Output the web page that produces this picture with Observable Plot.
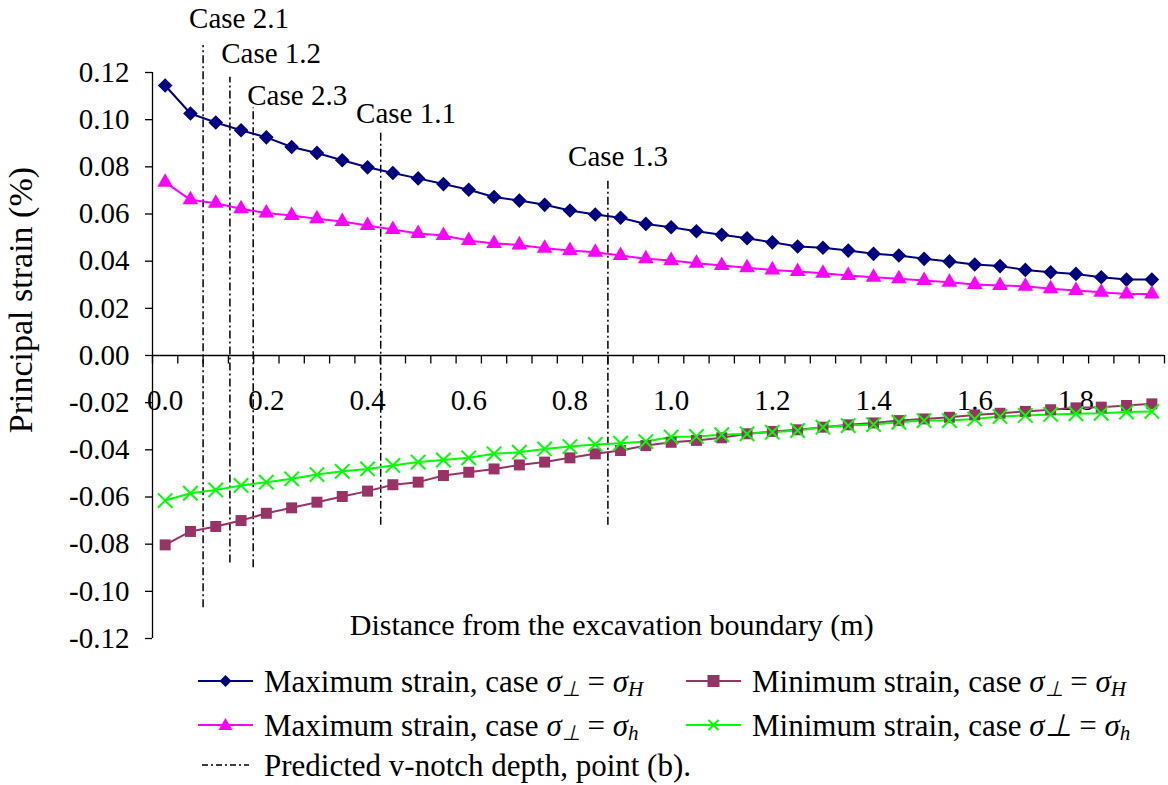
<!DOCTYPE html>
<html>
<head>
<meta charset="utf-8">
<script src="https://cdn.jsdelivr.net/npm/d3@7"></script>
<script src="https://cdn.jsdelivr.net/npm/@observablehq/plot@0.6"></script>
<style>
  html, body { margin: 0; padding: 0; background: #fff; }
  #wrap { position: relative; width: 1168px; height: 785px; font-family: "Liberation Serif", "Times New Roman", serif; }
  #legend { position: absolute; left: 0; top: 650px; width: 1168px; height: 135px; font-size: 31px; color: #000; }
  .item { position: absolute; display: flex; align-items: center; height: 32px; white-space: nowrap; line-height: 1; }
  .item svg { margin-right: 11px; }
  .item span { line-height: 1; }
  .s { font-style: italic; }
  sub { font-size: 0.68em; vertical-align: baseline; position: relative; top: 0.22em; line-height: 0; }
</style>
</head>
<body>
<div id="wrap">
  <div id="chart"></div>
  <div id="legend"></div>
</div>
<script>
// ---- data ----
const distance = [0.00,0.05,0.10,0.15,0.20,0.25,0.30,0.35,0.40,0.45,0.50,0.55,0.60,0.65,0.70,0.75,0.80,0.85,0.90,0.95,
                  1.00,1.05,1.10,1.15,1.20,1.25,1.30,1.35,1.40,1.45,1.50,1.55,1.60,1.65,1.70,1.75,1.80,1.85,1.90,1.95];
const maxStrainH = [0.1145,0.1026,0.0988,0.0955,0.0925,0.0884,0.0859,0.0828,0.0798,0.0774,0.0751,0.0727,0.0703,0.0672,0.0657,0.0639,0.0615,0.0598,0.0584,0.0558,
                    0.0544,0.0527,0.0512,0.0497,0.0480,0.0462,0.0457,0.0445,0.0431,0.0424,0.0410,0.0399,0.0386,0.0379,0.0363,0.0353,0.0346,0.0332,0.0322,0.0322];
const maxStrainh = [0.0735,0.0660,0.0646,0.0622,0.0604,0.0594,0.0580,0.0568,0.0551,0.0534,0.0517,0.0509,0.0488,0.0475,0.0469,0.0455,0.0445,0.0438,0.0424,0.0410,
                    0.0403,0.0391,0.0382,0.0372,0.0363,0.0356,0.0349,0.0339,0.0332,0.0325,0.0318,0.0311,0.0301,0.0297,0.0294,0.0283,0.0276,0.0268,0.0261,0.0261];
const minStrainH = [-0.0803,-0.0746,-0.0725,-0.0700,-0.0669,-0.0646,-0.0622,-0.0598,-0.0575,-0.0548,-0.0537,-0.0509,-0.0495,-0.0481,-0.0464,-0.0452,-0.0434,-0.0417,-0.0403,-0.0382,
                    -0.0368,-0.0360,-0.0349,-0.0332,-0.0322,-0.0315,-0.0304,-0.0294,-0.0286,-0.0276,-0.0269,-0.0262,-0.0252,-0.0245,-0.0237,-0.0230,-0.0222,-0.0219,-0.0212,-0.0205];
const minStrainh = [-0.0615,-0.0584,-0.0570,-0.0551,-0.0537,-0.0523,-0.0505,-0.0491,-0.0481,-0.0466,-0.0452,-0.0443,-0.0434,-0.0417,-0.0410,-0.0396,-0.0386,-0.0377,-0.0372,-0.0365,
                    -0.0346,-0.0343,-0.0336,-0.0332,-0.0325,-0.0318,-0.0304,-0.0297,-0.0293,-0.0283,-0.0276,-0.0276,-0.0269,-0.0259,-0.0254,-0.0250,-0.0247,-0.0245,-0.0240,-0.0237];

const caseNames  = ["Case 2.1","Case 1.2","Case 2.3","Case 1.1","Case 1.3"];
const caseDepth  = [0.075, 0.128, 0.174, 0.426, 0.875];
const caseTop    = [0.1315, 0.118, 0.105, 0.0954, 0.0746];
const caseBottom = [-0.107, -0.088, -0.090, -0.072, -0.072];
const caseLabelX = [0.146, 0.2095, 0.261, 0.476, 0.895];
const caseLabelY = [0.143, 0.128, 0.110, 0.1026, 0.0844];

const yTicks = [-0.12,-0.10,-0.08,-0.06,-0.04,-0.02,0.00,0.02,0.04,0.06,0.08,0.10,0.12];
const xTickLabels = [0.0,0.2,0.4,0.6,0.8,1.0,1.2,1.4,1.6,1.8];

const colors = {maxH: "#000080", maxh: "#FF00FF", minH: "#993366", minh: "#00FF00"};

// ---- tables ----
const rows = [];
distance.forEach((d, i) => {
  rows.push({d, v: maxStrainH[i], s: "maxH"});
  rows.push({d, v: maxStrainh[i], s: "maxh"});
  rows.push({d, v: minStrainH[i], s: "minH"});
  rows.push({d, v: minStrainh[i], s: "minh"});
});
const cases = caseNames.map((n, i) => ({n, x: caseDepth[i], y1: caseBottom[i], y2: caseTop[i], lx: caseLabelX[i], ly: caseLabelY[i]}));
const half = (distance[1] - distance[0]) / 2;
const catEdges = distance.map(d => d - half).concat([distance[distance.length - 1] + half]);
const xMin = catEdges[0], xMax = catEdges[catEdges.length - 1];

const font = "Liberation Serif, Times New Roman, serif";
const sel = s => rows.filter(r => r.s === s);

const chart = Plot.plot({
  width: 1168,
  height: 650,
  marginLeft: 152,
  marginRight: 4,
  marginTop: 72,
  marginBottom: 12,
  style: {fontFamily: font, fontSize: "29px", background: "white", color: "black", overflow: "visible"},
  x: {type: "linear", domain: [xMin, xMax], axis: null},
  y: {type: "linear", domain: [-0.12, 0.12], axis: null},
  marks: [
    // y axis
    Plot.ruleX([xMin], {y1: -0.12, y2: 0.12, stroke: "black", strokeWidth: 1.3}),
    Plot.axisY({ticks: yTicks, tickFormat: d => d.toFixed(2), tickSize: 7, tickPadding: 16, fontSize: 29, anchor: "left", strokeWidth: 1.3}),
    Plot.text(["Principal strain (%)"], {frameAnchor: "left", textAnchor: "middle", y: [0.0235], dx: -131, rotate: -90, fontSize: 34}),
    // x axis on zero line
    Plot.ruleY([0], {x1: xMin, x2: xMax, stroke: "black", strokeWidth: 1.3}),
    Plot.ruleX(catEdges, {x: d => d, y1: 0, y2: -0.0036, stroke: "black", strokeWidth: 1.3}),
    Plot.text(xTickLabels, {x: d => d, y: 0, dy: 45, text: d => d.toFixed(1), fontSize: 29}),
    Plot.text(["Distance from the excavation boundary (m)"], {x: [0.8825], y: [-0.1145], fontSize: 30}),
    // case rules
    Plot.ruleX(cases, {x: "x", y1: "y1", y2: "y2", stroke: "black", strokeWidth: 1.5, strokeDasharray: "8,3,2,3"}),
    Plot.text(cases, {x: "lx", y: "ly", text: "n", fontSize: 29}),
    // series
    Plot.line(sel("maxH"), {x: "d", y: "v", stroke: colors.maxH, strokeWidth: 2}),
    Plot.line(sel("maxh"), {x: "d", y: "v", stroke: colors.maxh, strokeWidth: 2}),
    Plot.line(sel("minH"), {x: "d", y: "v", stroke: colors.minH, strokeWidth: 2}),
    Plot.line(sel("minh"), {x: "d", y: "v", stroke: colors.minh, strokeWidth: 2}),
    Plot.dot(sel("maxH"), {x: "d", y: "v", symbol: "diamond2", r: 6.6, fill: colors.maxH, stroke: "none"}),
    Plot.dot(sel("maxh"), {x: "d", y: "v", symbol: "triangle", r: 5.8, fill: colors.maxh, stroke: "none"}),
    Plot.dot(sel("minH"), {x: "d", y: "v", symbol: "square", r: 6.2, fill: colors.minH, stroke: "none"}),
    Plot.dot(sel("minh"), {x: "d", y: "v", symbol: "times", r: 6.6, stroke: colors.minh, strokeWidth: 2, fill: "none"})
  ]
});
document.getElementById("chart").appendChild(chart);

// ---- legend ----
const sigma = sub => `<span class="s">σ<sub>${sub}</sub></span>`;
const legendItems = [
  {key: "maxH", left: 198, top: 15, html: `Maximum strain, case ${sigma("⊥")} = ${sigma("H")}`},
  {key: "minH", left: 686, top: 15, html: `Minimum strain, case ${sigma("⊥")} = ${sigma("H")}`},
  {key: "maxh", left: 198, top: 59, html: `Maximum strain, case ${sigma("⊥")} = ${sigma("h")}`},
  {key: "minh", left: 686, top: 59, html: `Minimum strain, case <span class="s">σ⊥</span> = ${sigma("h")}`},
  {key: "notch", left: 198, top: 99, html: `Predicted v-notch depth, point (b).`}
];
function markerSvg(key) {
  const w = 55, h = 20, cx = w / 2, cy = h / 2;
  let m = "";
  if (key === "notch") {
    return `<svg width="${w}" height="${h}"><line x1="4" x2="${w-4}" y1="${cy}" y2="${cy}" stroke="black" stroke-width="1.5" stroke-dasharray="6,3,2,3"/></svg>`;
  }
  const c = colors[key];
  if (key === "maxH") m = `<path d="M${cx},${cy-6}L${cx+6},${cy}L${cx},${cy+6}L${cx-6},${cy}Z" fill="${c}"/>`;
  if (key === "maxh") m = `<path d="M${cx},${cy-7}L${cx+7},${cy+5}L${cx-7},${cy+5}Z" fill="${c}"/>`;
  if (key === "minH") m = `<rect x="${cx-6}" y="${cy-6}" width="12" height="12" fill="${c}"/>`;
  if (key === "minh") m = `<path d="M${cx-5},${cy-5}L${cx+5},${cy+5}M${cx-5},${cy+5}L${cx+5},${cy-5}" stroke="${c}" stroke-width="2"/>`;
  return `<svg width="${w}" height="${h}"><line x1="0" x2="${w}" y1="${cy}" y2="${cy}" stroke="${c}" stroke-width="2"/>${m}</svg>`;
}
const legend = document.getElementById("legend");
legendItems.forEach(it => {
  const div = document.createElement("div");
  div.className = "item";
  div.style.left = it.left + "px";
  div.style.top = it.top + "px";
  div.innerHTML = markerSvg(it.key) + `<span>${it.html}</span>`;
  legend.appendChild(div);
});
</script>
</body>
</html>
